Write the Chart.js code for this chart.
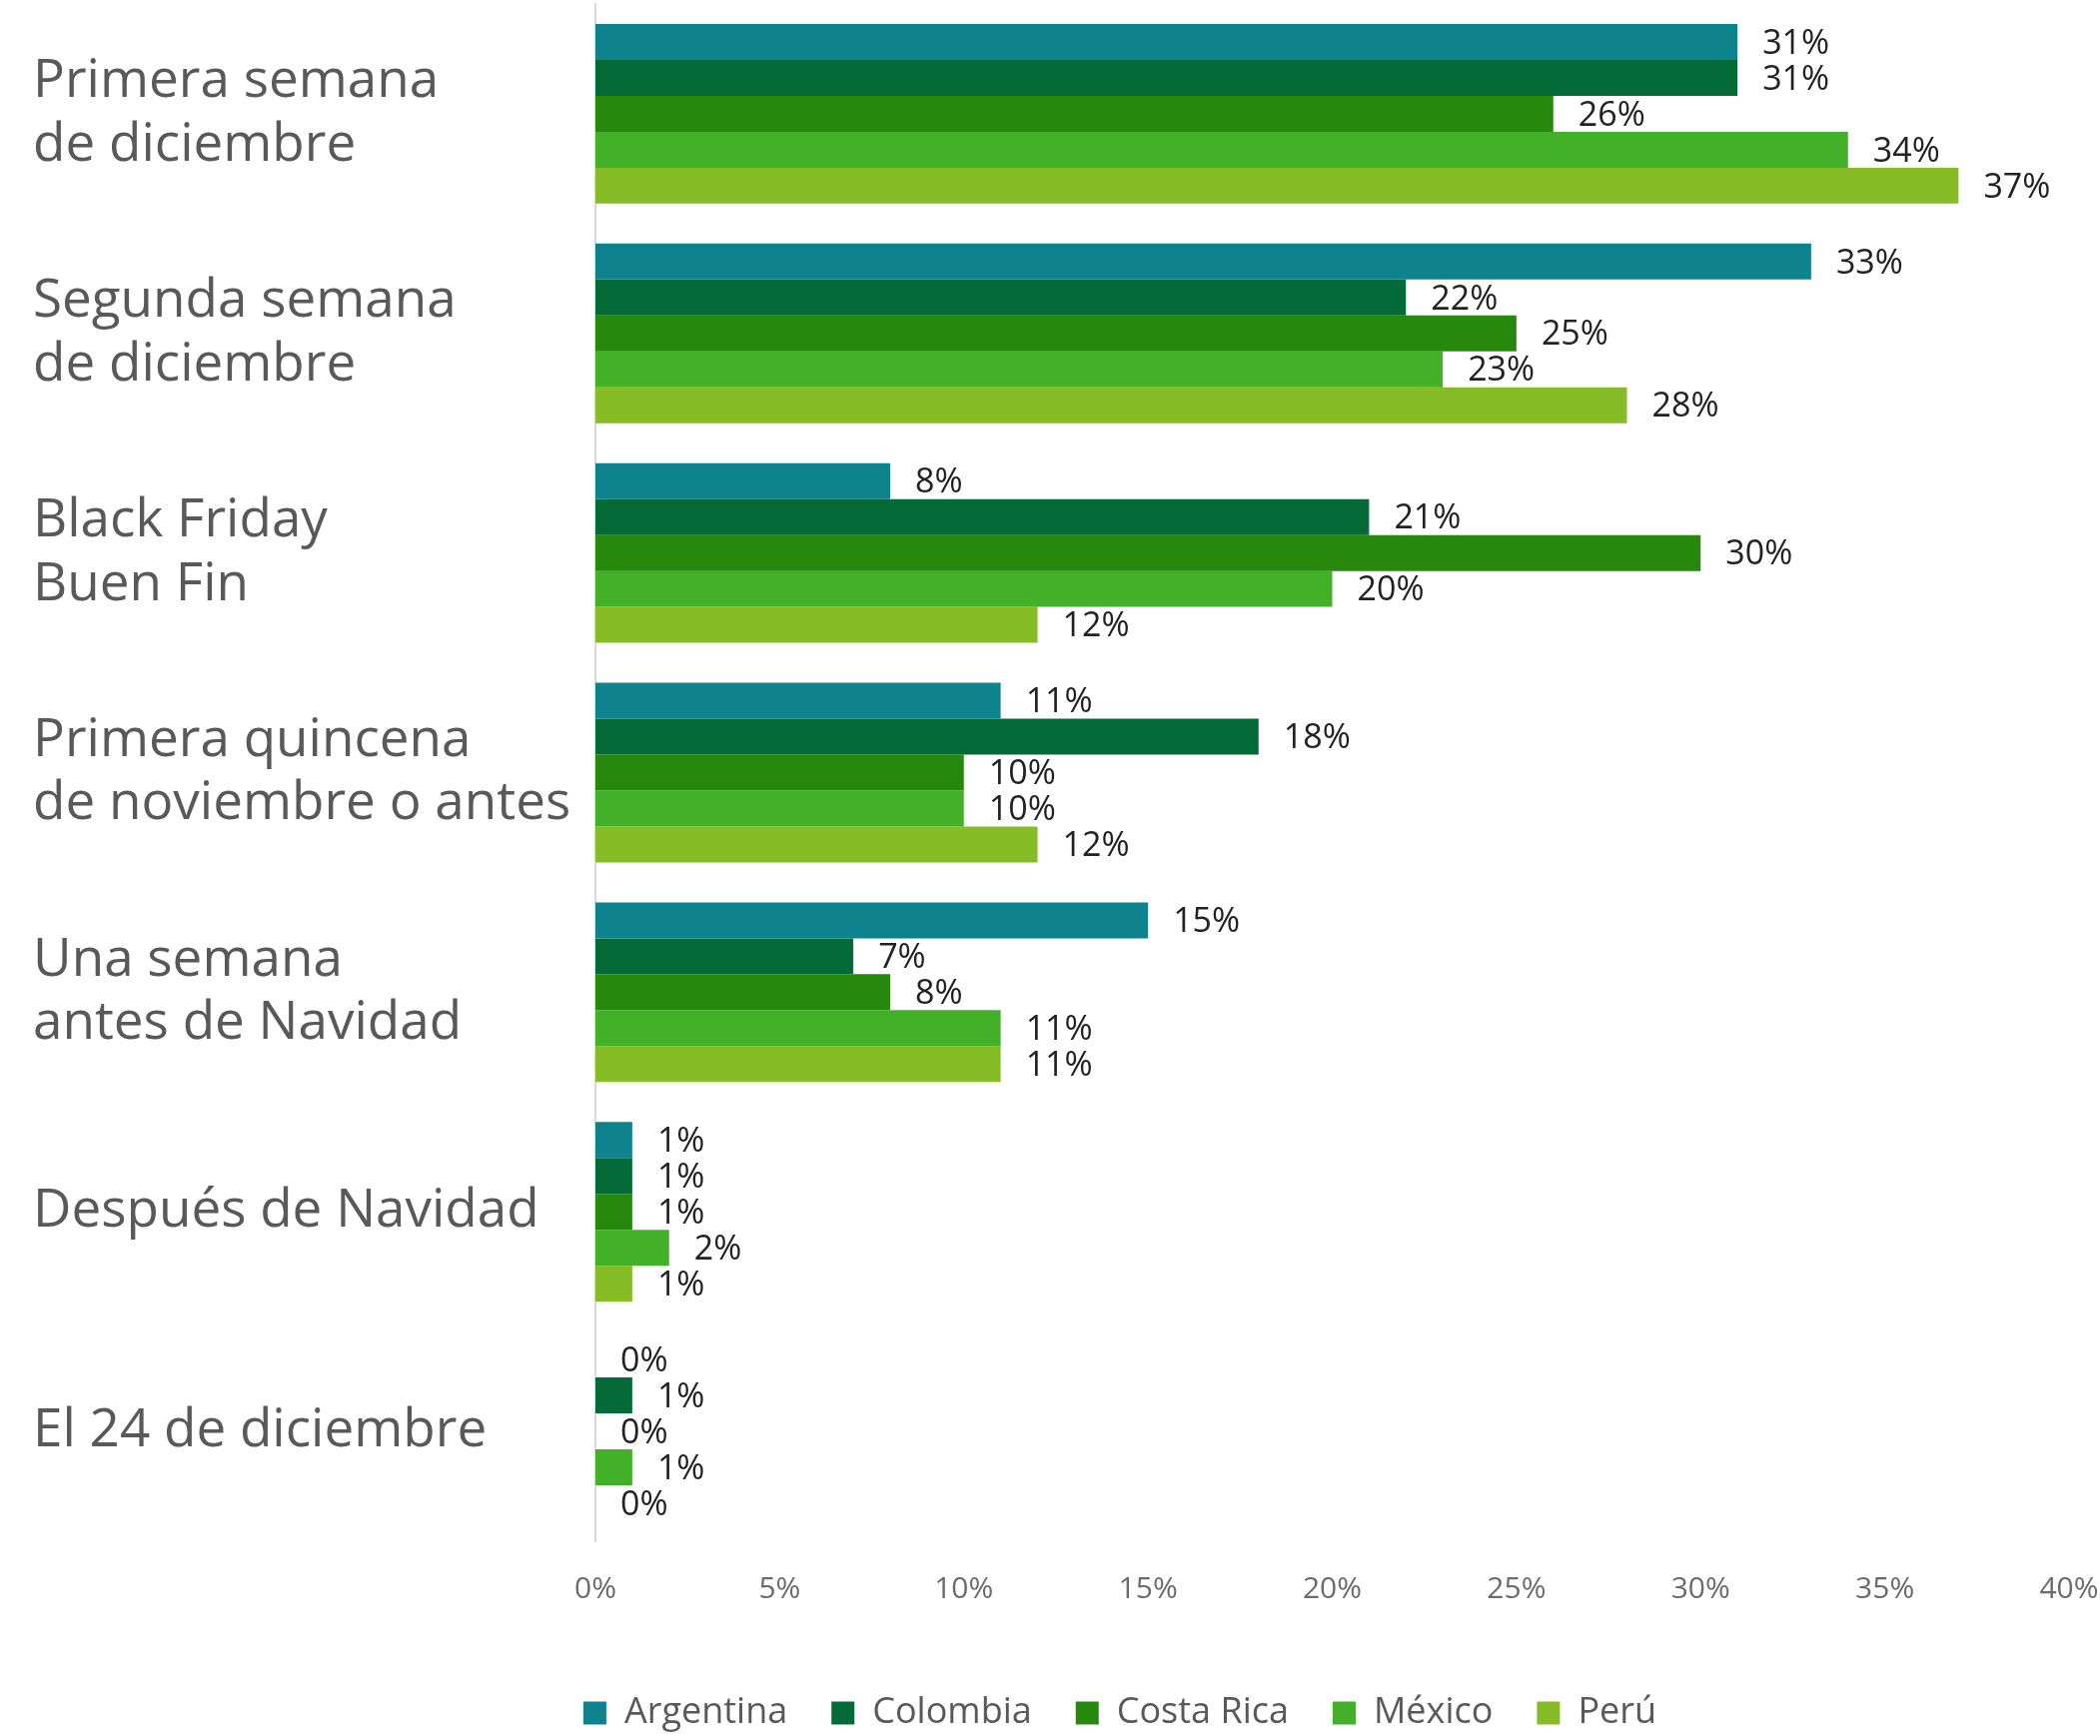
<!DOCTYPE html>
<html>
<head>
<meta charset="utf-8">
<script src="https://cdn.jsdelivr.net/npm/chart.js@4"></script>
<style>
    body { margin: 0; background: #fff; }
    #wrap { width: 2102px; height: 1738px; position: relative; }
</style>
</head>
<body>
<div id="wrap"><canvas id="grafico"></canvas></div>
<script>
// Categorías (eje vertical)
const categorias = [
    ['Primera semana', 'de diciembre'],
    ['Segunda semana', 'de diciembre'],
    ['Black Friday', 'Buen Fin'],
    ['Primera quincena', 'de noviembre o antes'],
    ['Una semana', 'antes de Navidad'],
    'Después de Navidad',
    'El 24 de diciembre'
];

// Series por país (%)
const paises = ['Argentina', 'Colombia', 'Costa Rica', 'México', 'Perú'];
const argentina = [31, 33, 8, 11, 15, 1, 0];
const colombia  = [31, 22, 21, 18, 7, 1, 1];
const costaRica = [26, 25, 30, 10, 8, 1, 0];
const mexico    = [34, 23, 20, 10, 11, 2, 1];
const peru      = [37, 28, 12, 12, 11, 1, 0];

// Eje horizontal
const ejeMin = 0;
const ejeMax = 40;
const ejePaso = 5;

const colores = ['#0E838E', '#046A38', '#26890D', '#43B02A', '#86BC25'];
const series = [argentina, colombia, costaRica, mexico, peru];

const FUENTE = "'Open Sans', 'DejaVu Sans', sans-serif";

/**
 * Etiquetas de valor al final de cada barra
 */
const etiquetasValor = {
    id: 'etiquetasValor',
    afterDatasetsDraw(chart) {
        const ctx = chart.ctx;
        ctx.save();
        ctx.font = '34px ' + FUENTE;
        ctx.fillStyle = '#222222';
        ctx.textAlign = 'left';
        ctx.textBaseline = 'middle';
        chart.data.datasets.forEach((ds, i) => {
            const meta = chart.getDatasetMeta(i);
            meta.data.forEach((bar, j) => {
                ctx.fillText(ds.data[j] + '%', bar.x + 25, bar.y + 2);
            });
        });
        ctx.restore();
    }
};

// La leyenda del original no está centrada en el lienzo, la desplazamos
const moverLeyenda = {
    id: 'moverLeyenda',
    afterLayout(chart) {
        const lg = chart.legend;
        if (!lg) return;
        const dx = 138;
        lg.left += dx;
        (lg.legendHitBoxes || []).forEach(h => { h.left += dx; });
    }
};

new Chart(document.getElementById('grafico'), {
    type: 'bar',
    data: {
        labels: categorias,
        datasets: paises.map((p, i) => ({
            label: p,
            data: series[i],
            backgroundColor: colores[i],
            borderWidth: 0,
            categoryPercentage: 0.818,
            barPercentage: 1.0
        }))
    },
    options: {
        indexAxis: 'y',
        responsive: true,
        maintainAspectRatio: false,
        animation: false,
        layout: {
            padding: { left: 33, right: 31, top: 4, bottom: -5 }
        },
        scales: {
            x: {
                min: ejeMin,
                max: ejeMax,
                grid: { display: false, drawTicks: false },
                border: { display: false },
                ticks: {
                    stepSize: ejePaso,
                    padding: 30,
                    color: '#6b6b6b',
                    font: { family: FUENTE, size: 30 },
                    callback: v => v + '%'
                },
                afterFit(scale) {
                    scale.height = 110;
                    scale.paddingLeft = 0;
                    scale.paddingRight = 0;
                }
            },
            y: {
                grid: { display: false, drawTicks: false },
                border: { display: true, color: '#d9d9d9', width: 2 },
                ticks: {
                    crossAlign: 'far',
                    color: '#595959',
                    font: { family: FUENTE, size: 53, lineHeight: 1.2 },
                    autoSkip: false
                },
                afterFit(scale) {
                    scale.width = 563;
                    scale.paddingTop = 0;
                    scale.paddingBottom = 0;
                }
            }
        },
        plugins: {
            legend: {
                position: 'bottom',
                labels: {
                    boxWidth: 23,
                    boxHeight: 23,
                    padding: 44,
                    color: '#595959',
                    font: { family: FUENTE, size: 36 }
                }
            },
            tooltip: { enabled: false }
        }
    },
    plugins: [etiquetasValor, moverLeyenda]
});
</script>
</body>
</html>
